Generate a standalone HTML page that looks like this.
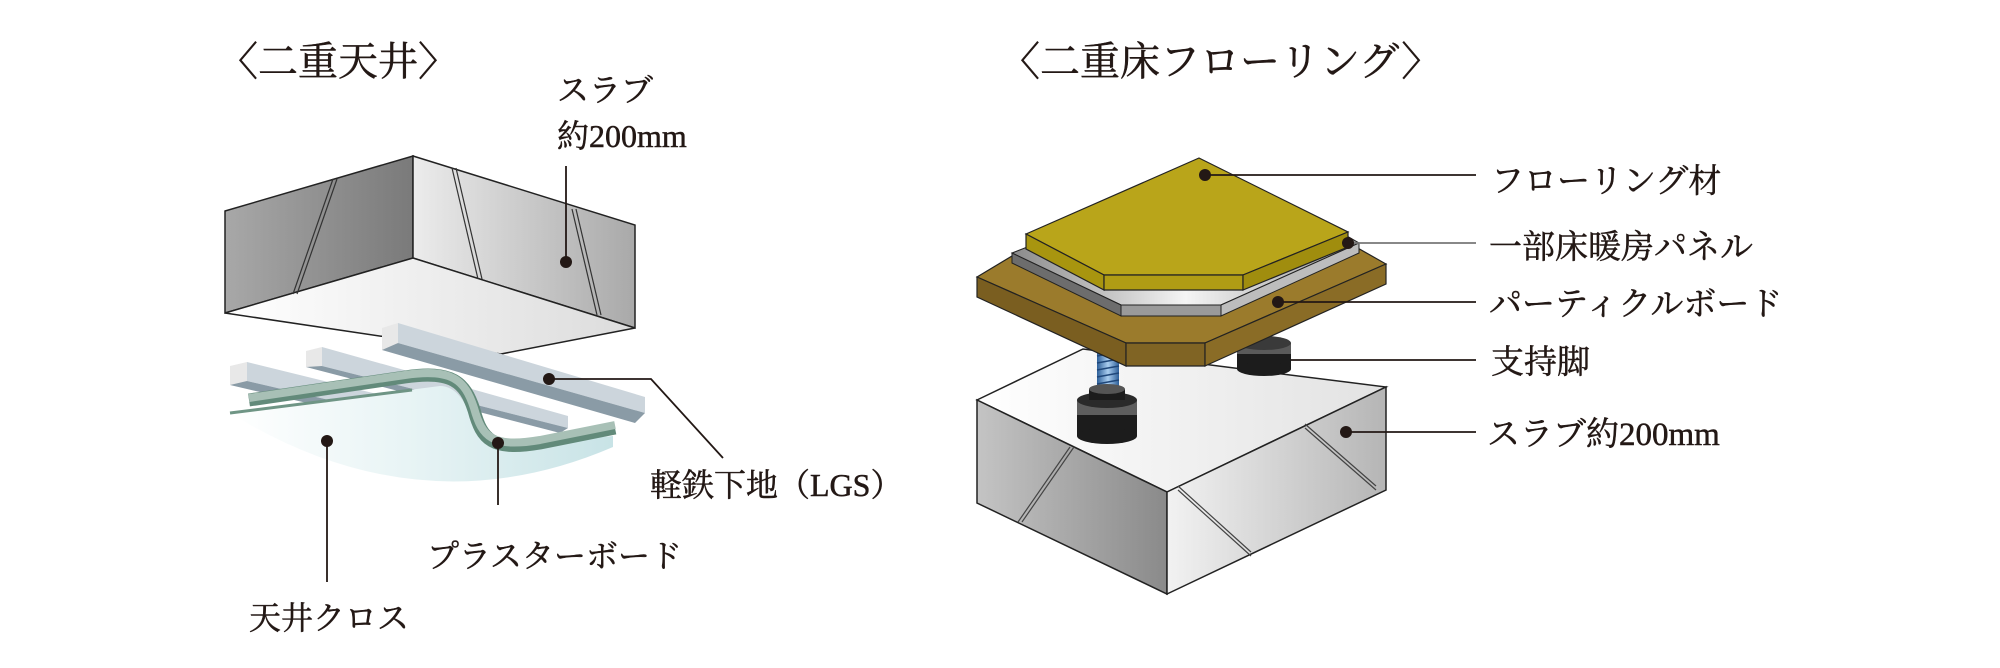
<!DOCTYPE html>
<html><head><meta charset="utf-8"><style>
html,body{margin:0;padding:0;background:#fff;}
svg{display:block;}
text{font-family:"Liberation Serif","Noto Serif CJK SC","Noto Sans CJK JP",serif;fill:#231815;stroke:#231815;stroke-width:0.5;}
</style></head><body>
<svg width="2000" height="668" viewBox="0 0 2000 668" xmlns="http://www.w3.org/2000/svg">
<defs>
<linearGradient id="lf" x1="0" x2="1"><stop offset="0" stop-color="#a8a8a8"/><stop offset="1" stop-color="#7a7a7a"/></linearGradient>
<linearGradient id="rf" x1="0" x2="1"><stop offset="0" stop-color="#ececec"/><stop offset="1" stop-color="#a9a9a9"/></linearGradient>
<linearGradient id="bf" x1="0" x2="1"><stop offset="0" stop-color="#ffffff"/><stop offset="1" stop-color="#dcdcdc"/></linearGradient>
<linearGradient id="cl" x1="0" x2="1"><stop offset="0" stop-color="#ffffff"/><stop offset="0.5" stop-color="#e6f3f4"/><stop offset="1" stop-color="#c8e3e6"/></linearGradient>
<linearGradient id="sl" x1="0" x2="1"><stop offset="0" stop-color="#c4c4c4"/><stop offset="1" stop-color="#8a8a8a"/></linearGradient>
<linearGradient id="sr" x1="0" x2="1"><stop offset="0" stop-color="#f2f2f2"/><stop offset="1" stop-color="#b5b5b5"/></linearGradient>
<linearGradient id="st" x1="0" x2="1"><stop offset="0" stop-color="#ffffff"/><stop offset="1" stop-color="#e2e2e2"/></linearGradient>
<linearGradient id="pn" x1="0" x2="1"><stop offset="0" stop-color="#8a8a8a"/><stop offset="0.5" stop-color="#f4f4f4"/><stop offset="1" stop-color="#9a9a9a"/></linearGradient>
<linearGradient id="scr" x1="0" x2="1"><stop offset="0" stop-color="#2d5f99"/><stop offset="0.5" stop-color="#a9cdef"/><stop offset="1" stop-color="#2d5f99"/></linearGradient>
</defs>

<!-- LEFT TITLE -->
<text x="218" y="75" font-size="40">〈二重天井〉</text>

<!-- slab -->
<polygon points="225,211 413,156 413,258 225,313" fill="url(#lf)" stroke="#222" stroke-width="1.5"/>
<polygon points="413,156 635,225 635,328 413,258" fill="url(#rf)" stroke="#222" stroke-width="1.5"/>
<polygon points="225,313 413,258 635,328 501,354" fill="url(#bf)" stroke="#222" stroke-width="1.5"/>
<g stroke="#333" stroke-width="1.2">
<line x1="333" y1="179" x2="293" y2="294"/><line x1="337" y1="179" x2="297" y2="294"/>
<line x1="452" y1="168" x2="478" y2="279"/><line x1="456" y1="168" x2="482" y2="279"/>
<line x1="572" y1="209" x2="597" y2="315"/><line x1="576" y1="209" x2="601" y2="315"/>
</g>

<!-- LGS bars -->
<g>
<polygon points="398,323 645,397 645,413 398,343" fill="#ccd5dc"/>
<polygon points="382,345 398,343 645,413 635,423 382,350" fill="#8a9ba6"/>
<polygon points="382,328 398,323 398,343 382,350" fill="#e8e8e8"/>
<polygon points="322,347 568,416 568,428 322,366" fill="#ccd5dc"/>
<polygon points="306,362 322,366 568,428 560,433 306,367" fill="#8a9ba6"/>
<polygon points="306,351 322,347 322,366 306,367" fill="#e8e8e8"/>
<polygon points="247,362 450,412 450,428 247,381" fill="#ccd5dc"/>
<polygon points="230,380 247,381 450,428 440,434 230,385" fill="#8a9ba6"/>
<polygon points="230,366 247,362 247,381 230,385" fill="#e8e8e8"/>
</g>

<!-- cloth -->
<path d="M230,413 L440,386 C470,386 472,440 500,446 L613,436 L613,447 Q420,530 230,413 Z" fill="url(#cl)"/>
<line x1="230" y1="413" x2="412" y2="390" stroke="#6f9585" stroke-width="3"/>
<!-- plaster board -->
<path d="M249,400 L405,377 C452,370 465,382 474,410 C482,440 492,451 540,443 L615,428" fill="none" stroke="#628a7a" stroke-width="13"/>
<path d="M249,398 L405,375 C452,368 465,380 474,408 C482,437 492,448 540,440 L615,425" fill="none" stroke="#a8c0b6" stroke-width="8"/>

<!-- left leaders -->
<g stroke="#231815" stroke-width="1.8" fill="none">
<line x1="566" y1="166" x2="566" y2="262"/>
<polyline points="549,379 651,379 723,458"/>
<line x1="327" y1="441" x2="327" y2="582"/>
<line x1="498" y1="443" x2="498" y2="505"/>
</g>
<g fill="#231815">
<circle cx="566" cy="262" r="6"/><circle cx="549" cy="379" r="6"/>
<circle cx="327" cy="441" r="6"/><circle cx="498" cy="443" r="6"/>
</g>
<text x="557" y="101" font-size="32">スラブ</text>
<text x="557" y="147" font-size="32">約200mm</text>
<text x="650" y="496" font-size="32">軽鉄下地（LGS）</text>
<text x="427" y="567" font-size="32">プラスターボード</text>
<text x="249" y="629" font-size="32">天井クロス</text>

<!-- RIGHT TITLE -->
<text x="1000" y="75" font-size="40">〈二重床フローリング〉</text>

<!-- slab right -->
<polygon points="977,400 1083,349 1386,387 1167,492" fill="url(#st)" stroke="#222" stroke-width="1.5"/>
<polygon points="977,400 1167,492 1167,594 977,503" fill="url(#sl)" stroke="#222" stroke-width="1.5"/>
<polygon points="1167,492 1386,387 1386,490 1167,594" fill="url(#sr)" stroke="#222" stroke-width="1.5"/>
<g stroke="#444" stroke-width="1.2">
<line x1="1070" y1="447" x2="1018" y2="522"/><line x1="1074" y1="447" x2="1022" y2="522"/>
<line x1="1305" y1="424" x2="1376" y2="486"/><line x1="1305" y1="428" x2="1376" y2="490"/>
<line x1="1178" y1="486" x2="1251" y2="552"/><line x1="1178" y1="490" x2="1251" y2="556"/>
</g>

<!-- back foot -->
<rect x="1237" y="343" width="54" height="26" fill="#1c1c1c"/>
<ellipse cx="1264" cy="369" rx="27" ry="7" fill="#1c1c1c"/>
<rect x="1237" y="343" width="54" height="11" fill="#5a5a5a"/>
<ellipse cx="1264" cy="343" rx="27" ry="7" fill="#3a3a3a"/>
<!-- screw -->
<rect x="1097" y="350" width="22" height="42" fill="url(#scr)"/>
<g stroke="#1f477a" stroke-width="1.5">
<line x1="1097" y1="356" x2="1119" y2="352"/><line x1="1097" y1="363" x2="1119" y2="359"/>
<line x1="1097" y1="370" x2="1119" y2="366"/><line x1="1097" y1="377" x2="1119" y2="373"/>
<line x1="1097" y1="384" x2="1119" y2="380"/>
</g>
<!-- front foot -->
<rect x="1077" y="400" width="60" height="36" fill="#1c1c1c"/>
<ellipse cx="1107" cy="436" rx="30" ry="8" fill="#1c1c1c"/>
<rect x="1077" y="400" width="60" height="15" fill="#5e5e5e"/>
<ellipse cx="1107" cy="400" rx="30" ry="8" fill="#2a2a2a"/>
<rect x="1089" y="389" width="36" height="11" fill="#1c1c1c"/>
<ellipse cx="1107" cy="389" rx="18" ry="5" fill="#555"/>

<!-- particle board -->
<polygon points="977,277 1012,256 1340,238 1386,264 1205,343 1126,343" fill="#9b7b2c" stroke="#222" stroke-width="1.2"/>
<polygon points="977,277 1126,343 1126,366 977,297" fill="#7a5e20" stroke="#222" stroke-width="1.2"/>
<polygon points="1126,343 1205,343 1205,366 1126,366" fill="#806424" stroke="#222" stroke-width="1.2"/>
<polygon points="1205,343 1386,264 1386,284 1205,366" fill="#8a6c26" stroke="#222" stroke-width="1.2"/>
<!-- heating panel -->
<polygon points="1012,253 1035,244 1340,232 1359,243 1221,305 1121,305" fill="url(#pn)" stroke="#222" stroke-width="1"/>
<polygon points="1012,253 1121,305 1121,316 1012,263" fill="#6d6d6d" stroke="#222" stroke-width="1"/>
<polygon points="1121,305 1221,305 1221,316 1121,316" fill="#9a9a9a" stroke="#222" stroke-width="1"/>
<polygon points="1221,305 1359,243 1359,253 1221,316" fill="#bdbdbd" stroke="#222" stroke-width="1"/>
<!-- flooring -->
<polygon points="1026,234 1199,158 1348,232 1243,275 1104,275" fill="#b9a51a" stroke="#222" stroke-width="1.2"/>
<polygon points="1026,234 1104,275 1104,290 1026,249" fill="#a8950f" stroke="#222" stroke-width="1.2"/>
<polygon points="1104,275 1243,275 1243,290 1104,290" fill="#b09c14" stroke="#222" stroke-width="1.2"/>
<polygon points="1243,275 1348,232 1348,247 1243,290" fill="#a08d0e" stroke="#222" stroke-width="1.2"/>

<!-- right leaders -->
<g stroke="#231815" stroke-width="1.8">
<line x1="1205" y1="175" x2="1476" y2="175"/>
<line x1="1348" y1="243" x2="1476" y2="243" stroke="#777"/>
<line x1="1278" y1="302" x2="1476" y2="302"/>
<line x1="1291" y1="360" x2="1476" y2="360"/>
<line x1="1346" y1="432" x2="1476" y2="432"/>
</g>
<g fill="#231815">
<circle cx="1205" cy="175" r="6"/><circle cx="1348" cy="243" r="6"/>
<circle cx="1278" cy="302" r="6"/><circle cx="1346" cy="432" r="6"/>
</g>
<text x="1491" y="192" font-size="33">フローリング材</text>
<text x="1489" y="258" font-size="33">一部床暖房パネル</text>
<text x="1489" y="315" font-size="33">パーティクルボード</text>
<text x="1491" y="373" font-size="33">支持脚</text>
<text x="1487" y="445" font-size="33">スラブ約200mm</text>
</svg>
</body></html>
